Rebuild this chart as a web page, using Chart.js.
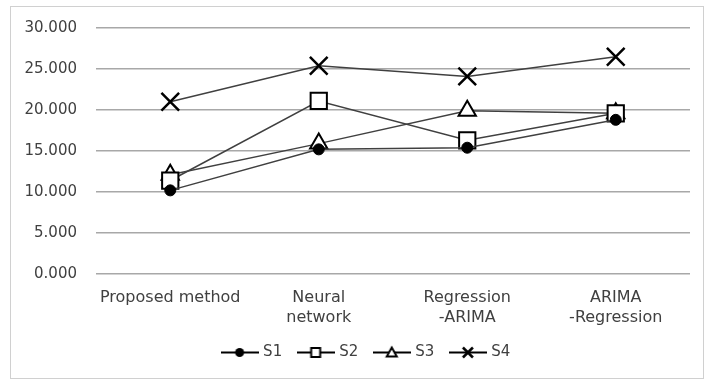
<!DOCTYPE html>
<html>
<head>
<meta charset="utf-8">
<script src="https://cdn.jsdelivr.net/npm/chart.js@4.4.6/dist/chart.umd.min.js"></script>
<style>
  html, body { margin: 0; padding: 0; background: #fff; }
  #wrap { position: absolute; left: 0; top: 0; width: 705px; height: 380px; }
</style>
</head>
<body>
<div id="wrap"><canvas id="chart"></canvas></div>
<script>
/* data */
const categories = ["Proposed method", ["Neural", "network"], ["Regression", "-ARIMA"], ["ARIMA", "-Regression"]];
const seriesNames = ["S1", "S2", "S3", "S4"];
const s1 = [10.2, 15.2, 15.4, 18.8];
const s2 = [11.4, 21.1, 16.3, 19.6];
const s3 = [12.1, 15.9, 19.9, 19.6];
const s4 = [21.0, 25.4, 24.1, 26.5];
const yTicks = [0, 5, 10, 15, 20, 25, 30];

const textColor = "#404040";
const lineColor = "#404040";
const fontFamily = "'DejaVu Sans', sans-serif";

/* legend icons: short line with the marker in the middle */
function legendIcon(kind) {
  const c = document.createElement("canvas");
  c.width = 38; c.height = 15;
  const g = c.getContext("2d");
  g.strokeStyle = "#000";
  g.lineWidth = 2;
  g.beginPath(); g.moveTo(0, 7.5); g.lineTo(38, 7.5); g.stroke();
  const cx = 19, cy = 7.5;
  if (kind === "circle") {
    g.fillStyle = "#000";
    g.beginPath(); g.arc(cx, cy, 4.5, 0, Math.PI * 2); g.fill();
  } else if (kind === "rect") {
    g.fillStyle = "#fff";
    g.fillRect(cx - 4.5, cy - 4.5, 9, 9);
    g.strokeRect(cx - 4.5, cy - 4.5, 9, 9);
  } else if (kind === "triangle") {
    g.fillStyle = "#fff";
    g.beginPath(); g.moveTo(cx, cy - 5); g.lineTo(cx + 5, cy + 4); g.lineTo(cx - 5, cy + 4); g.closePath();
    g.fill(); g.stroke();
  } else {
    g.lineWidth = 2.5;
    g.beginPath();
    g.moveTo(cx - 5, cy - 5); g.lineTo(cx + 5, cy + 5);
    g.moveTo(cx + 5, cy - 5); g.lineTo(cx - 5, cy + 5);
    g.stroke();
  }
  return c;
}

const styles = [
  { style: "circle", radius: 5.5, fill: "#000", bw: 1 },
  { style: "rect", radius: 11.5, fill: "#fff", bw: 2 },
  { style: "triangle", radius: 10, fill: "#fff", bw: 2 },
  { style: "crossRot", radius: 12.5, fill: "#000", bw: 2.5 }
];
const icons = styles.map(s => legendIcon(s.style));

const values = [s1, s2, s3, s4];
const datasets = values.map((vals, i) => ({
  label: seriesNames[i],
  data: vals,
  borderColor: lineColor,
  borderWidth: 1.5,
  tension: 0,
  pointStyle: styles[i].style,
  pointRadius: styles[i].radius,
  pointHoverRadius: styles[i].radius,
  pointBackgroundColor: styles[i].fill,
  pointBorderColor: "#000",
  pointBorderWidth: styles[i].bw
}));

/* light frame round the whole chart, and nudge the legend box to the right */
const frame = {
  id: "frame",
  afterLayout(chart) {
    chart.legend.left += 40;
  },
  beforeDraw(chart) {
    const g = chart.ctx;
    g.save();
    g.strokeStyle = "#d0d0d0";
    g.lineWidth = 1;
    g.strokeRect(10.5, 6.5, 693, 372);
    g.restore();
  }
};

new Chart(document.getElementById("chart"), {
  type: "line",
  data: { labels: categories, datasets: datasets },
  options: {
    responsive: true,
    maintainAspectRatio: false,
    animation: false,
    layout: { padding: { left: 0, right: 11, top: 25, bottom: 10 } },
    plugins: {
      tooltip: { enabled: false },
      legend: {
        position: "bottom",
        labels: {
          usePointStyle: true,
          pointStyleWidth: 32,
          padding: 17.5,
          color: textColor,
          font: { family: fontFamily, size: 15 },
          generateLabels(chart) {
            const items = Chart.defaults.plugins.legend.labels.generateLabels(chart);
            items.forEach((it, i) => { it.pointStyle = icons[i]; });
            return items;
          }
        }
      }
    },
    scales: {
      x: {
        offset: true,
        grid: { display: false, drawTicks: false },
        border: { display: false },
        ticks: {
          color: textColor,
          padding: 14,
          maxRotation: 0,
          autoSkip: false,
          font: { family: fontFamily, size: 16, lineHeight: 1.25 }
        },
        afterFit(scale) { scale.height = 53.5; }
      },
      y: {
        min: 0,
        max: 30,
        afterBuildTicks(scale) { scale.ticks = yTicks.map(v => ({ value: v })); },
        grid: { color: "#a8a8a8", lineWidth: 1.4, drawTicks: false },
        border: { display: false },
        ticks: {
          color: textColor,
          padding: 19,
          font: { family: fontFamily, size: 15 },
          callback: v => v.toFixed(3)
        },
        afterFit(scale) { scale.width = 96; }
      }
    }
  },
  plugins: [frame]
});
</script>
</body>
</html>
